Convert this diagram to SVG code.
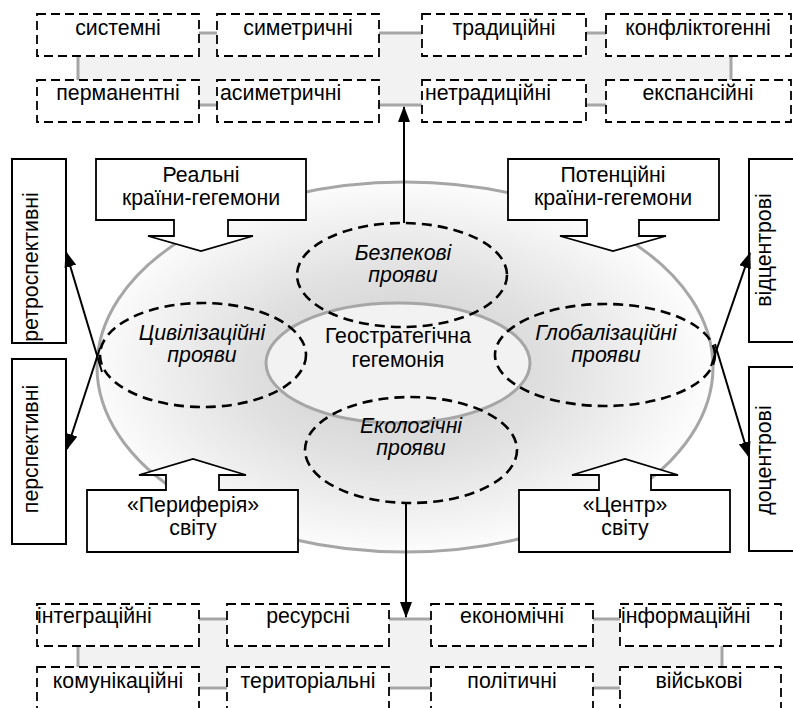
<svg xmlns="http://www.w3.org/2000/svg" width="793" height="708" viewBox="0 0 793 708">
<defs>
<radialGradient id="bigFill" cx="0.49" cy="0.5" r="0.5">
<stop offset="0" stop-color="#cccccc"/>
<stop offset="0.5" stop-color="#e0e0e0"/>
<stop offset="1" stop-color="#fcfcfc"/>
</radialGradient>
<marker id="ah" markerUnits="userSpaceOnUse" markerWidth="16" markerHeight="12" viewBox="0 0 16 12" refX="15" refY="6" orient="auto">
<path d="M0,0 L16,6 L0,12 Z" fill="#000"/>
</marker>
<style>
.t{font-family:"Liberation Sans",Arial,sans-serif;font-size:21.3px;fill:#000}
.m{text-anchor:middle}
.i{font-style:italic}
.db{fill:#fff;stroke:#000;stroke-width:1.8;stroke-dasharray:9 5}
.de{fill:none;stroke:#000;stroke-width:2.6;stroke-dasharray:10 6}
.band{fill:#f2f2f2;stroke:none}
.bl{stroke:#a6a6a6;stroke-width:3;fill:none}
.co{fill:#fff;stroke:#000;stroke-width:1.8}
.sb{fill:#fff;stroke:#000;stroke-width:2}
.ar{stroke:#000;stroke-width:2;fill:none;marker-end:url(#ah)}
</style>
</defs>
<rect width="793" height="708" fill="#fff"/>

<g id="top-bands">
<rect class="band" x="78" y="57" width="653" height="23"/>
<rect class="band" x="199" y="33" width="18" height="72"/>
<rect class="band" x="379" y="33" width="43" height="72"/>
<rect class="band" x="586" y="33" width="20" height="72"/>
<path class="bl" d="M78,57 V80 M731,57 V80 M199,33 H217 M199,105 H217 M379,33 H422 M379,105 H422 M586,33 H606 M586,105 H606"/>
</g>
<g id="bottom-bands">
<rect class="band" x="78" y="647" width="644" height="20"/>
<rect class="band" x="199" y="619" width="28" height="69"/>
<rect class="band" x="389" y="619" width="42" height="69"/>
<rect class="band" x="593" y="619" width="27" height="69"/>
<path class="bl" d="M78,646 V667 M722,646 V667 M199,619 H227 M199,688 H227 M389,619 H431 M389,688 H431 M593,619 H620 M593,688 H620"/>
</g>

<g id="top-boxes">
<g id="n-systemni"><rect class="db" x="37" y="14" width="162" height="42"/><text class="t m" x="118" y="35">системні</text></g>
<g id="n-permanentni"><rect class="db" x="37" y="80" width="162" height="42"/><text class="t m" x="118" y="100">перманентні</text></g>
<g id="n-symetrychni"><rect class="db" x="217" y="14" width="162" height="42"/><text class="t m" x="298" y="35">симетричні</text></g>
<g id="n-asymetrychni"><rect class="db" x="217" y="80" width="162" height="42"/><text class="t" x="220" y="100">асиметричні</text></g>
<g id="n-tradytsiini"><rect class="db" x="422" y="14" width="164" height="42"/><text class="t m" x="504" y="35">традиційні</text></g>
<g id="n-netradytsiini"><rect class="db" x="422" y="80" width="164" height="42"/><text class="t" x="425" y="100">нетрадиційні</text></g>
<g id="n-konfliktohenni"><rect class="db" x="606" y="14" width="185" height="42"/><text class="t m" x="698" y="35">конфліктогенні</text></g>
<g id="n-ekspansiini"><rect class="db" x="606" y="80" width="185" height="42"/><text class="t m" x="698" y="100">експансійні</text></g>
</g>

<g id="bottom-boxes">
<g id="n-intehratsiini"><rect class="db" x="37" y="604" width="162" height="42"/><text class="t" x="37" y="623">інтеграційні</text></g>
<g id="n-komunikatsiini"><rect class="db" x="37" y="667" width="162" height="44"/><text class="t m" x="118" y="688">комунікаційні</text></g>
<g id="n-resursni"><rect class="db" x="227" y="604" width="162" height="42"/><text class="t m" x="308" y="623">ресурсні</text></g>
<g id="n-terytorialni"><rect class="db" x="227" y="667" width="162" height="44"/><text class="t m" x="308" y="688">територіальні</text></g>
<g id="n-ekonomichni"><rect class="db" x="431" y="604" width="162" height="42"/><text class="t m" x="512" y="623">економічні</text></g>
<g id="n-politychni"><rect class="db" x="431" y="667" width="162" height="44"/><text class="t m" x="512" y="688">політичні</text></g>
<g id="n-informatsiini"><rect class="db" x="620" y="604" width="161" height="42"/><text class="t" x="621" y="623">інформаційні</text></g>
<g id="n-viiskovi"><rect class="db" x="620" y="667" width="161" height="44"/><text class="t m" x="699" y="688">військові</text></g>
</g>

<g id="n-main-field">
<ellipse cx="405" cy="367" rx="308" ry="185" fill="url(#bigFill)" stroke="#a6a6a6" stroke-width="3"/>
</g>
<g id="n-geo">
<ellipse cx="398" cy="363" rx="132" ry="60" fill="#f2f2f2" stroke="#a6a6a6" stroke-width="3"/>
<text class="t m" x="398" y="343">Геостратегічна</text>
<text class="t m" x="398" y="367">гегемонія</text>
</g>
<g id="n-bezpekovi">
<ellipse class="de" cx="402" cy="275" rx="105" ry="52"/>
<text class="t m i" x="403" y="260">Безпекові</text>
<text class="t m i" x="403" y="282">прояви</text>
</g>
<g id="n-ekolohichni">
<ellipse class="de" cx="411" cy="450" rx="106" ry="53"/>
<text class="t m i" x="411" y="433">Екологічні</text>
<text class="t m i" x="411" y="455">прояви</text>
</g>
<g id="n-tsyvilizatsiini">
<ellipse class="de" cx="203" cy="355" rx="103" ry="52"/>
<text class="t m i" x="202" y="340">Цивілізаційні</text>
<text class="t m i" x="202" y="362">прояви</text>
</g>
<g id="n-hlobalizatsiini">
<ellipse class="de" cx="605" cy="355" rx="110" ry="51"/>
<text class="t m i" x="606" y="340">Глобалізаційні</text>
<text class="t m i" x="606" y="362">прояви</text>
</g>

<g id="n-realni">
<path class="co" d="M96,159 H306 V220 H228 V236 H253 L201,251 L148,236 H174 V220 H96 Z"/>
<text class="t m" x="201" y="182">Реальні</text>
<text class="t m" x="201" y="205">країни-гегемони</text>
</g>
<g id="n-potentsiini">
<path class="co" d="M508,159 H719 V220 H639 V236 H666 L613,251 L560,236 H587 V220 H508 Z"/>
<text class="t m" x="613" y="182">Потенційні</text>
<text class="t m" x="613" y="205">країни-гегемони</text>
</g>
<g id="n-peryferiia">
<path class="co" d="M87,490 H166 V475 H139 L193,459 L246,475 H219 V490 H298 V552 H87 Z"/>
<text class="t m" x="193" y="512">«Периферія»</text>
<text class="t m" x="193" y="535">світу</text>
</g>
<g id="n-tsentr">
<path class="co" d="M519,490 H599 V475 H572 L625,459 L678,475 H651 V490 H730 V552 H519 Z"/>
<text class="t m" x="625" y="512">«Центр»</text>
<text class="t m" x="625" y="535">світу</text>
</g>

<g id="n-retrospektyvni">
<rect class="sb" x="12" y="159" width="54" height="184"/>
<text class="t m" transform="translate(38,267) rotate(-90)">ретроспективні</text>
</g>
<g id="n-perspektyvni">
<rect class="sb" x="12" y="359" width="54" height="185"/>
<text class="t m" transform="translate(38,449) rotate(-90)">перспективні</text>
</g>
<g id="n-vidtsentrovi">
<rect class="sb" x="749" y="159" width="56" height="183"/>
<text class="t m" transform="translate(771,250) rotate(-90)">відцентрові</text>
</g>
<g id="n-dotsentrovi">
<rect class="sb" x="749" y="367" width="56" height="184"/>
<text class="t m" transform="translate(771,460) rotate(-90)">доцентрові</text>
</g>

<g id="connectors">
<line class="ar" x1="404" y1="223" x2="404" y2="107"/>
<line class="ar" x1="406" y1="503" x2="406" y2="617"/>
<line class="ar" x1="102" y1="372" x2="66" y2="252"/>
<line class="ar" x1="100" y1="348" x2="67" y2="449"/>
<line class="ar" x1="711" y1="366" x2="750" y2="253"/>
<line class="ar" x1="715" y1="344" x2="749" y2="457"/>
</g>
</svg>
